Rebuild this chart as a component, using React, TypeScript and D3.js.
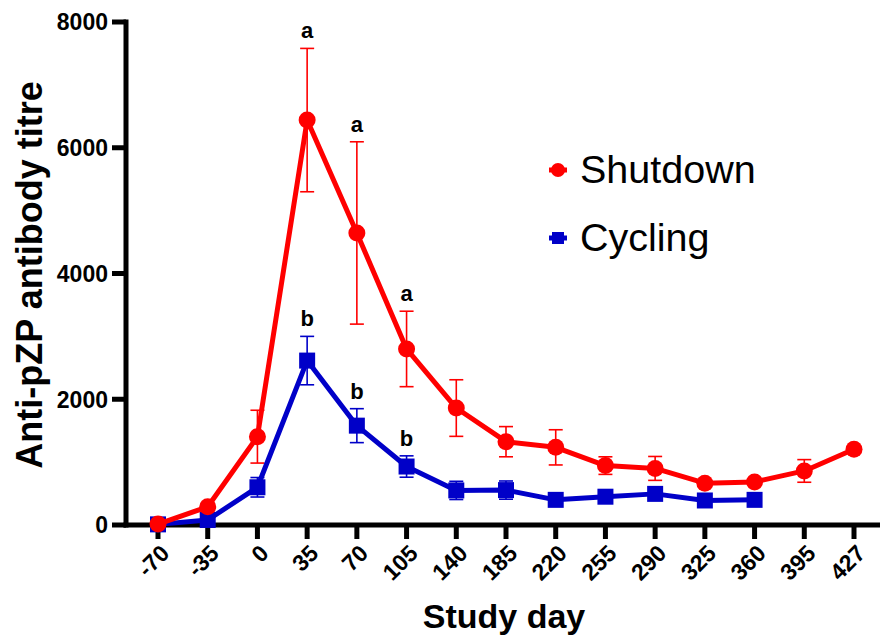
import React from "react";
import * as d3 from "d3";

const days = ["-70", "-35", "0", "35", "70", "105", "140", "185", "220", "255", "290", "325", "360", "395", "427"];
const shutdownMean = [15, 290, 1405, 6440, 4645, 2800, 1860, 1325, 1235, 945, 900, 665, 685, 860, 1205];
const shutdownSem = [0, 0, 420, 1140, 1450, 600, 450, 240, 280, 140, 190, 0, 0, 180, 0];
const cyclingMean: (number | null)[] = [10, 80, 600, 2615, 1580, 930, 550, 555, 400, 450, 495, 390, 400, null, null];
const cyclingSem = [0, 0, 155, 385, 270, 170, 145, 145, 0, 0, 0, 0, 0, 0, 0];
const yTicks = [0, 2000, 4000, 6000, 8000];
const shutdownLetters = [{ day: "35", t: "a" }, { day: "70", t: "a" }, { day: "105", t: "a" }];
const cyclingLetters = [{ day: "35", t: "b" }, { day: "70", t: "b" }, { day: "105", t: "b" }];

const RED = "#ff0000";
const BLUE = "#0000c8";
const FONT = "'Liberation Sans', Arial, sans-serif";

export default function App() {
  const x = d3.scalePoint<string>().domain(days).range([158, 854]);
  const y = d3.scaleLinear().domain([0, 8000]).range([525, 22]);
  const xAxisY = 525;
  const yAxisX = 126;

  const line = d3
    .line<{ d: string; v: number | null }>()
    .defined((p) => p.v !== null)
    .x((p) => x(p.d) as number)
    .y((p) => y(p.v as number));

  const redPts = days.map((d, i) => ({ d, v: shutdownMean[i] as number | null }));
  const bluePts = days.map((d, i) => ({ d, v: cyclingMean[i] }));

  const errBars = (means: (number | null)[], sems: number[], color: string) =>
    days.map((d, i) => {
      const m = means[i];
      const s = sems[i];
      if (m === null || !s) return null;
      const cx = x(d) as number;
      const y1 = y(m + s);
      const y2 = y(m - s);
      return (
        <g key={"e" + color + d} stroke={color} strokeWidth={1.6}>
          <line x1={cx} x2={cx} y1={y1} y2={y2} />
          <line x1={cx - 7} x2={cx + 7} y1={y1} y2={y1} />
          <line x1={cx - 7} x2={cx + 7} y1={y2} y2={y2} />
        </g>
      );
    });

  const letterEls = (
    list: { day: string; t: string }[],
    means: (number | null)[],
    sems: number[],
    key: string
  ) =>
    list.map((l) => {
      const i = days.indexOf(l.day);
      const m = means[i] as number;
      return (
        <text
          key={key + l.day}
          x={x(l.day) as number}
          y={y(m + sems[i]) - 10}
          textAnchor="middle"
          fontFamily={FONT}
          fontWeight="bold"
          fontSize={22}
          fill="#000"
        >
          {l.t}
        </text>
      );
    });

  return (
    <svg
      width={882}
      height={642}
      style={{ position: "absolute", left: 0, top: 0, background: "#fff" }}
    >
      <rect width={882} height={642} fill="#fff" />
      {/* y axis */}
      <line x1={yAxisX} x2={yAxisX} y1={y(8000) - 2.5} y2={xAxisY + 2.5} stroke="#000" strokeWidth={5} />
      {yTicks.map((t) => (
        <g key={"yt" + t}>
          <line x1={yAxisX - 14} x2={yAxisX} y1={y(t)} y2={y(t)} stroke="#000" strokeWidth={5} />
          <text
            x={108}
            y={y(t)}
            dy="0.36em"
            textAnchor="end"
            fontFamily={FONT}
            fontWeight="bold"
            fontSize={23}
          >
            {t}
          </text>
        </g>
      ))}
      {/* x axis */}
      <line x1={yAxisX - 2.5} x2={880} y1={xAxisY} y2={xAxisY} stroke="#000" strokeWidth={5} />
      {days.map((d) => (
        <g key={"xt" + d}>
          <line x1={x(d) as number} x2={x(d) as number} y1={xAxisY} y2={xAxisY + 14} stroke="#000" strokeWidth={5} />
          <text
            transform={`translate(${(x(d) as number) + 7},${xAxisY + 24}) rotate(-45)`}
            textAnchor="end"
            dy="0.35em"
            fontFamily={FONT}
            fontWeight="bold"
            fontSize={23}
          >
            {d}
          </text>
        </g>
      ))}
      {/* axis titles */}
      <text
        transform={`translate(42,275) rotate(-90)`}
        textAnchor="middle"
        fontFamily={FONT}
        fontWeight="bold"
        fontSize={36}
      >
        Anti-pZP antibody titre
      </text>
      <text x={504} y={628} textAnchor="middle" fontFamily={FONT} fontWeight="bold" fontSize={34}>
        Study day
      </text>

      {/* error bars */}
      {errBars(cyclingMean, cyclingSem, BLUE)}
      {errBars(shutdownMean, shutdownSem, RED)}

      {/* cycling series */}
      <path d={line(bluePts) || ""} fill="none" stroke={BLUE} strokeWidth={5} strokeLinejoin="round" />
      {bluePts.map((p) =>
        p.v === null ? null : (
          <rect key={"bs" + p.d} x={(x(p.d) as number) - 8} y={y(p.v) - 8} width={16} height={16} fill={BLUE} />
        )
      )}
      {/* shutdown series */}
      <path d={line(redPts) || ""} fill="none" stroke={RED} strokeWidth={5} strokeLinejoin="round" />
      {redPts.map((p) => (
        <circle key={"rc" + p.d} cx={x(p.d) as number} cy={y(p.v as number)} r={8.5} fill={RED} />
      ))}

      {letterEls(shutdownLetters, shutdownMean, shutdownSem, "ra")}
      {letterEls(cyclingLetters, cyclingMean, cyclingSem, "cb")}

      {/* legend */}
      <line x1={549} x2={567} y1={170} y2={170} stroke={RED} strokeWidth={5} />
      <circle cx={558} cy={170} r={7} fill={RED} />
      <text x={580} y={183} fontFamily={FONT} fontSize={39.5}>
        Shutdown
      </text>
      <line x1={549} x2={567} y1={238} y2={238} stroke={BLUE} strokeWidth={5} />
      <rect x={552} y={232} width={12} height={12} fill={BLUE} />
      <text x={580} y={251} fontFamily={FONT} fontSize={39.5}>
        Cycling
      </text>
    </svg>
  );
}
